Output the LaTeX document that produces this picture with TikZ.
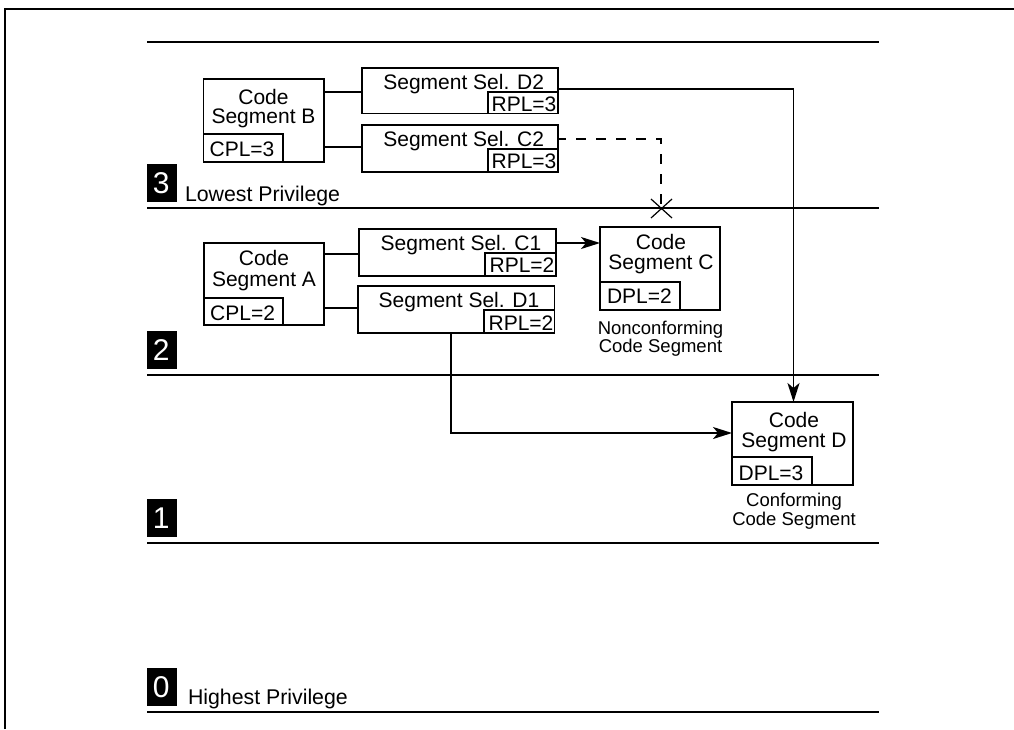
\documentclass[tikz,border=0pt]{standalone}
\usepackage{fontspec}
\setmainfont{Liberation Sans}
\usetikzlibrary{arrows.meta}
\tikzset{
  every node/.style={inner sep=0pt,outer sep=0pt},
  rule/.style={line width=2pt},
  box/.style={draw,line width=1.8pt,anchor=north west},
  lbl/.style={font=\fontsize{21}{20}\selectfont,anchor=base},
  twol/.style={font=\fontsize{21}{20}\selectfont,align=center,anchor=center},
  small/.style={font=\fontsize{18.5}{18}\selectfont,align=center,anchor=center},
  priv/.style={font=\fontsize{21.3}{21}\selectfont,anchor=base west},
  lev/.style={fill=black,text=white,font=\fontsize{30}{30}\selectfont,minimum width=30pt,minimum height=37.5pt,anchor=north west,execute at begin node=\kern-1.5pt},
  conn/.style={line width=1.8pt},
  arrowline/.style={-{Stealth[length=19pt,width=12pt,inset=5pt]},line width=1.8pt}
}
\begin{document}
\begin{tikzpicture}[x=1pt,y=-1pt]
\useasboundingbox (0,0) rectangle (1014,729);
\fill[white] (0,0) rectangle (1014,729);
% frame
\draw[line width=2pt] (5,729) -- (5,9) -- (1014,9);
% rules
\foreach \y in {42,208,375,543,712} \draw[rule] (147,\y) -- (879,\y);
% level tags
\node[lev] (l3) at (147,164) {3};
\node[lev] (l2) at (147,331) {2};
\node[lev] (l1) at (147,499) {1};
\node[lev] (l0) at (147,668) {0};
\node[priv] (low) at (185,201) {Lowest Privilege};
\node[priv] (high) at (188,704.5) {Highest Privilege};
% Code segment B
\node[box,minimum width=120.5pt,minimum height=83pt] (b) at (203.5,79) {};
\node[box,minimum width=79.5pt,minimum height=28pt] (bc) at (203.5,134) {};
\node[twol] (bt) at (263.5,108.2) {Code\\[-1pt]Segment B};
\node[lbl] (bct) at (242,156) {CPL=3};
% selectors level 3
\node[box,minimum width=196pt,minimum height=45.5pt] (d2) at (362,68) {};
\node[box,minimum width=70pt,minimum height=21.5pt] (d2r) at (488,92) {};
\node[lbl] (d2t) at (463.7,89.5) {Segment Sel. D2};
\node[lbl] (d2rt) at (524,111) {RPL=3};
\node[box,minimum width=196pt,minimum height=47pt] (c2) at (362,125) {};
\node[box,minimum width=70pt,minimum height=23pt] (c2r) at (488,149) {};
\node[lbl] (c2t) at (463.7,146.5) {Segment Sel. C2};
\node[lbl] (c2rt) at (524,168) {RPL=3};
% Code segment A
\node[box,minimum width=120pt,minimum height=82pt] (a) at (204,243) {};
\node[box,minimum width=79pt,minimum height=27pt] (ac) at (204,298) {};
\node[twol] (at) at (264,270.2) {Code\\[1pt]Segment A};
\node[lbl] (act) at (242.6,320) {CPL=2};
% selectors level 2
\node[box,minimum width=197pt,minimum height=47pt] (c1) at (359,229) {};
\node[box,minimum width=71pt,minimum height=23pt] (c1r) at (485,253) {};
\node[lbl] (c1t) at (461,250) {Segment Sel. C1};
\node[lbl] (c1rt) at (522,272.7) {RPL=2};
\node[box,minimum width=196.5pt,minimum height=47pt] (d1) at (358,286) {};
\node[box,minimum width=70.5pt,minimum height=23pt] (d1r) at (484,310) {};
\node[lbl] (d1t) at (459,307) {Segment Sel. D1};
\node[lbl] (d1rt) at (521,330) {RPL=2};
% Code segment C
\node[box,minimum width=120pt,minimum height=83pt] (c) at (600,227) {};
\node[box,minimum width=80pt,minimum height=28pt] (cd) at (600,282) {};
\node[twol] (ct) at (661,253.7) {Code\\Segment C};
\node[lbl] (cdt) at (639.4,303) {DPL=2};
\node[small] (ctx) at (660.5,338.7) {Nonconforming\\[-.5pt]Code Segment};
% Code segment D
\node[box,minimum width=121pt,minimum height=83pt] (d) at (732,402) {};
\node[box,minimum width=80pt,minimum height=28pt] (dd) at (732,457) {};
\node[twol] (dt) at (794,431.7) {Code\\Segment D};
\node[lbl] (ddt) at (771,480) {DPL=3};
\node[small] (dtx) at (794,511.7) {Conforming\\[1pt]Code Segment};
% connectors
\draw[conn] (b.east |- 0,92) -- (d2.west |- 0,92);
\draw[conn] (b.east |- 0,147) -- (c2.west |- 0,147);
\draw[conn] (a.east |- 0,254) -- (c1.west |- 0,254);
\draw[conn] (a.east |- 0,308) -- (d1.west |- 0,308);
\draw[arrowline] (c1.east |- 0,243) -- (c.west |- 0,243);
\draw[arrowline] (d2.east |- 0,89) -- (793.5,89) -- (793.5,402);
\draw[arrowline] (451,333) -- (451,433) -- (d.west |- 0,433);
\coordinate (x) at (661,208);
\draw[conn,dash pattern=on 10pt off 10pt,dash phase=2pt] (c2.east |- 0,139) -- (661,139) -- (x);
\draw[line width=1.2pt] (651,199) -- (672,218) (651,218) -- (672,199);
\end{tikzpicture}
\end{document}
